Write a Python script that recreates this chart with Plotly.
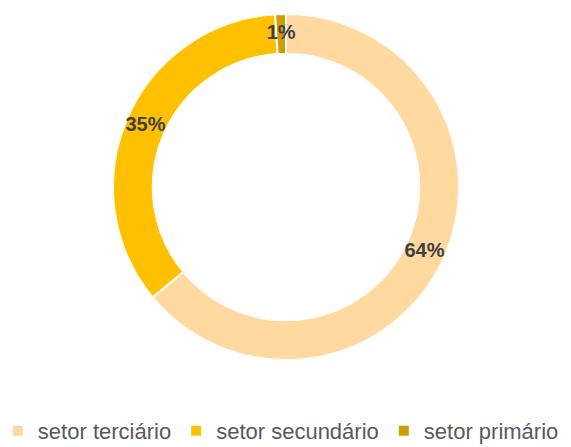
import plotly.graph_objects as go

categories = ["setor terciário", "setor secundário", "setor primário"]
values = [64, 35, 1]
colors = ["#FFD9A0", "#FFC000", "#D09C00"]

total = sum(values)
pct_labels = [f"{round(v / total * 100)}%" for v in values]
mid_angles = []
widths = []
acc = 0
for v in values:
    mid_angles.append((acc + v / 2) / total * 360)
    widths.append(v / total * 360)
    acc += v

W, H = 563, 439  # page body has 8px margin
dom_x = [105 / W, 451 / W]
dom_y = [1 - 352 / H, 1 - 6 / H]
hole = 0.77

fig = go.Figure()
for cat, th, w, c in zip(categories, mid_angles, widths, colors):
    fig.add_trace(go.Barpolar(
        r=[1], theta=[th], width=[w], name=cat,
        marker=dict(color=c, line=dict(color="white", width=2)),
        hoverinfo="name",
    ))
fig.add_trace(go.Scatterpolar(
    r=[0.5] * len(values),
    theta=mid_angles,
    mode="text",
    text=pct_labels,
    textfont=dict(family="Liberation Sans, Arial, sans-serif", size=20, color="#404040", weight="bold"),
    showlegend=False,
    hoverinfo="skip",
))
fig.update_layout(
    width=W, height=H,
    margin=dict(l=0, r=0, t=0, b=0, autoexpand=False),
    paper_bgcolor="white",
    plot_bgcolor="white",
    polar=dict(
        domain=dict(x=dom_x, y=dom_y),
        hole=hole,
        bgcolor="rgba(0,0,0,0)",
        radialaxis=dict(visible=False, range=[0, 1]),
        angularaxis=dict(visible=False, rotation=90, direction="clockwise"),
        bargap=0,
    ),
    legend=dict(
        orientation="h",
        x=-0.018, xanchor="left",
        y=-0.011, yanchor="bottom",
        font=dict(family="Liberation Sans, Arial, sans-serif", size=22, color="#595959"),
        itemwidth=30,
        traceorder="normal",
    ),
    showlegend=True,
)
fig.write_html("out.html")
